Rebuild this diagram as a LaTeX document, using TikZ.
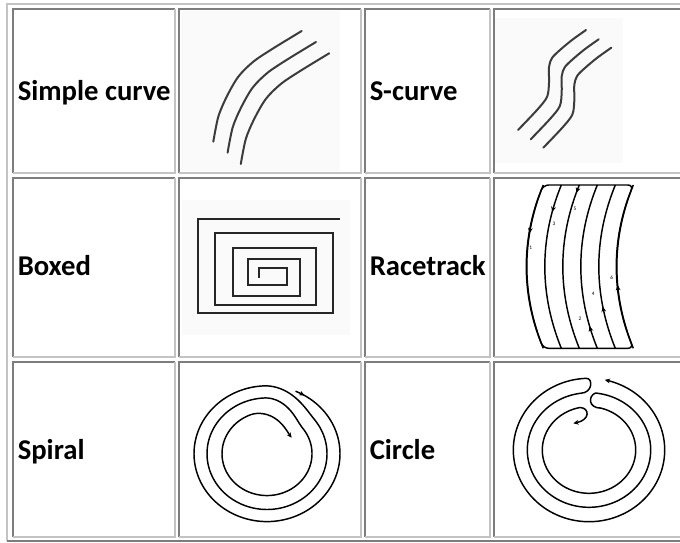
\documentclass[tikz,border=0pt]{standalone}
\usepackage{fontspec}
\newfontfamily\labelfont{Carlito}
\usetikzlibrary{arrows.meta, decorations.markings}

\definecolor{celldark}{RGB}{125,125,125}
\definecolor{celllight}{RGB}{195,195,195}
\definecolor{inkgray}{RGB}{60,60,60}
\definecolor{photobg}{RGB}{250,250,250}

\begin{document}
\begin{tikzpicture}[x=0.75pt, y=-0.75pt,
    >={Stealth[length=4pt, width=3.6pt]},
    declare function={sstep(\x)=(min(1,max(0,\x)))^2*(3-2*min(1,max(0,\x)));
                      spr(\x)=73-13*sstep((\x-335)/55)-15*sstep((\x-695)/55)-15*sstep((\x-1035)/77);},
    rowlabel/.style={anchor=base west, inner sep=0pt, font=\labelfont\bfseries\fontsize{21.5}{25}\selectfont},
    lanenum/.style={inner sep=0pt, font=\labelfont\fontsize{4}{4}\selectfont},
    edgedark/.style={draw=celldark, line width=1.2pt},
    edgelight/.style={draw=celllight, line width=1.2pt},
    curveline/.style={inkgray, line width=1.5pt, line cap=round},
    boxline/.style={black!85, line width=1.5pt},
    trackline/.style={black, line width=1.1pt},
    ringline/.style={black, line width=1.1pt},
    lanemark/.style={postaction={decorate, decoration={markings, mark=at position #1 with {\arrow{>}}}}}]
  \useasboundingbox (0,0) rectangle (680,542);
  \clip (0,0) rectangle (680,542);
  \fill[white] (0,0) rectangle (680,542);

  % table frame
  \draw[edgelight] (7,541) |- (686,4);
  \draw[edgedark] (7,541) -| (686,4);
  \foreach \xa/\xb in {13/175, 179/361, 365/490, 494/684}
    \foreach \ya/\yb in {9/173, 178/357, 362/537} {
      \draw[edgedark] (\xa,\yb) |- (\xb,\ya);
      \draw[edgelight] (\xa,\yb) -| (\xb,\ya);
    }

  % picture backgrounds
  \fill[photobg] (181,11) rectangle (340,171);
  \fill[photobg] (495,18) rectangle (623,163);
  \fill[photobg] (182,200) rectangle (350,335);

  % labels
  \node[rowlabel] (lblsimple) at (17.5,100) {Simple curve};
  \node[rowlabel] (lblscurve) at (369.5,100) {S-curve};
  \node[rowlabel] (lblboxed) at (17.5,275) {Boxed};
  \node[rowlabel] (lblrace) at (369.5,275) {Racetrack};
  \node[rowlabel] (lblspiral) at (17.5,459) {Spiral};
  \node[rowlabel] (lblcircle) at (369.5,459) {Circle};

  % simple curve
  \foreach \dx/\dy in {0/0, 14.3/11, 27.5/22.3}
    \draw[curveline, shift={(\dx,\dy)}] plot[smooth] coordinates
      {(213.3,141.7) (218.3,116.7) (226.7,96.7) (238.3,76.7) (253.3,61.7) (273.3,48.3) (301.7,31)};

  % S-curve
  \foreach \dx/\dy in {0/0, 12.7/9.3, 25.3/17.7}
    \draw[curveline, shift={(\dx,\dy)}] plot[smooth] coordinates
      {(518,130) (537,110) (547,97) (549,83) (549,67) (552,58) (560,50) (572,40) (586,30)};

  % boxed
  \draw[boxline] (340,219.3) -- (198.3,219.3) -- (198.3,313.3) -- (332.7,313.3) -- (332.7,233.3)
    -- (215,233.3) -- (215,305) -- (315.7,305) -- (315.7,248.3) -- (233.3,248.3) -- (233.3,296)
    -- (300,296) -- (300,259.3) -- (247.7,259.3) -- (247.7,285) -- (286.7,285) -- (286.7,268.3)
    -- (259.3,268.3) -- (259.3,278.3);

  % racetrack
  \draw[trackline, rounded corners=4pt] (543.3,185) .. controls (521.3,239) and (521.3,294) .. (543.3,348.3)
    -- (633.3,348.3) .. controls (611.3,294) and (611.3,239) .. (633.3,185) -- cycle;
  \foreach \lx/\pos in {543.3/0.30, 561.3/0.17, 579.3/0.05}
    \draw[trackline, lanemark=\pos] (\lx,185) .. controls (\lx-22,239) and (\lx-22,294) .. (\lx,348.3);
  \foreach \lx/\pos in {597.3/0.14, 615.3/0.26, 633.3/0.39}
    \draw[trackline, lanemark=\pos] (\lx,348.3) .. controls (\lx-22,294) and (\lx-22,239) .. (\lx,185);
  \node[lanenum] (num1) at (530.7,247.3) {1};
  \node[lanenum] (num3) at (554,223.3) {3};
  \node[lanenum] (num5) at (575,209.3) {5};
  \node[lanenum] (num2) at (580,319) {2};
  \node[lanenum] (num4) at (593.3,294) {4};
  \node[lanenum] (num6) at (611.7,277.7) {6};

  % spiral
  \draw[ringline, ->, lanemark=7.5pt] plot[domain=0:1112, samples=420, variable=\t]
    ({267+spr(\t)*cos(67-\t)}, {453.7-0.93*spr(\t)*sin(67-\t)});

  % circle
  \draw[ringline, <->] plot[domain=0:346, samples=140, variable=\t]
      ({589+75.7*cos(78-\t)}, {450-71.7*sin(78-\t)})
    .. controls (593,378) and (593,393) .. (580.4,393.3)
    -- plot[domain=98:444, samples=140, variable=\t]
      ({589+61.7*cos(\t)}, {450-57.3*sin(\t)})
    .. controls (588,396) and (588,408) .. (601.1,408.2)
    -- plot[domain=0:334, samples=140, variable=\t]
      ({589+46.7*cos(75-\t)}, {450-43.3*sin(75-\t)})
    .. controls (590,408) and (590,420) .. (573.3,423.3);
\end{tikzpicture}
\end{document}
